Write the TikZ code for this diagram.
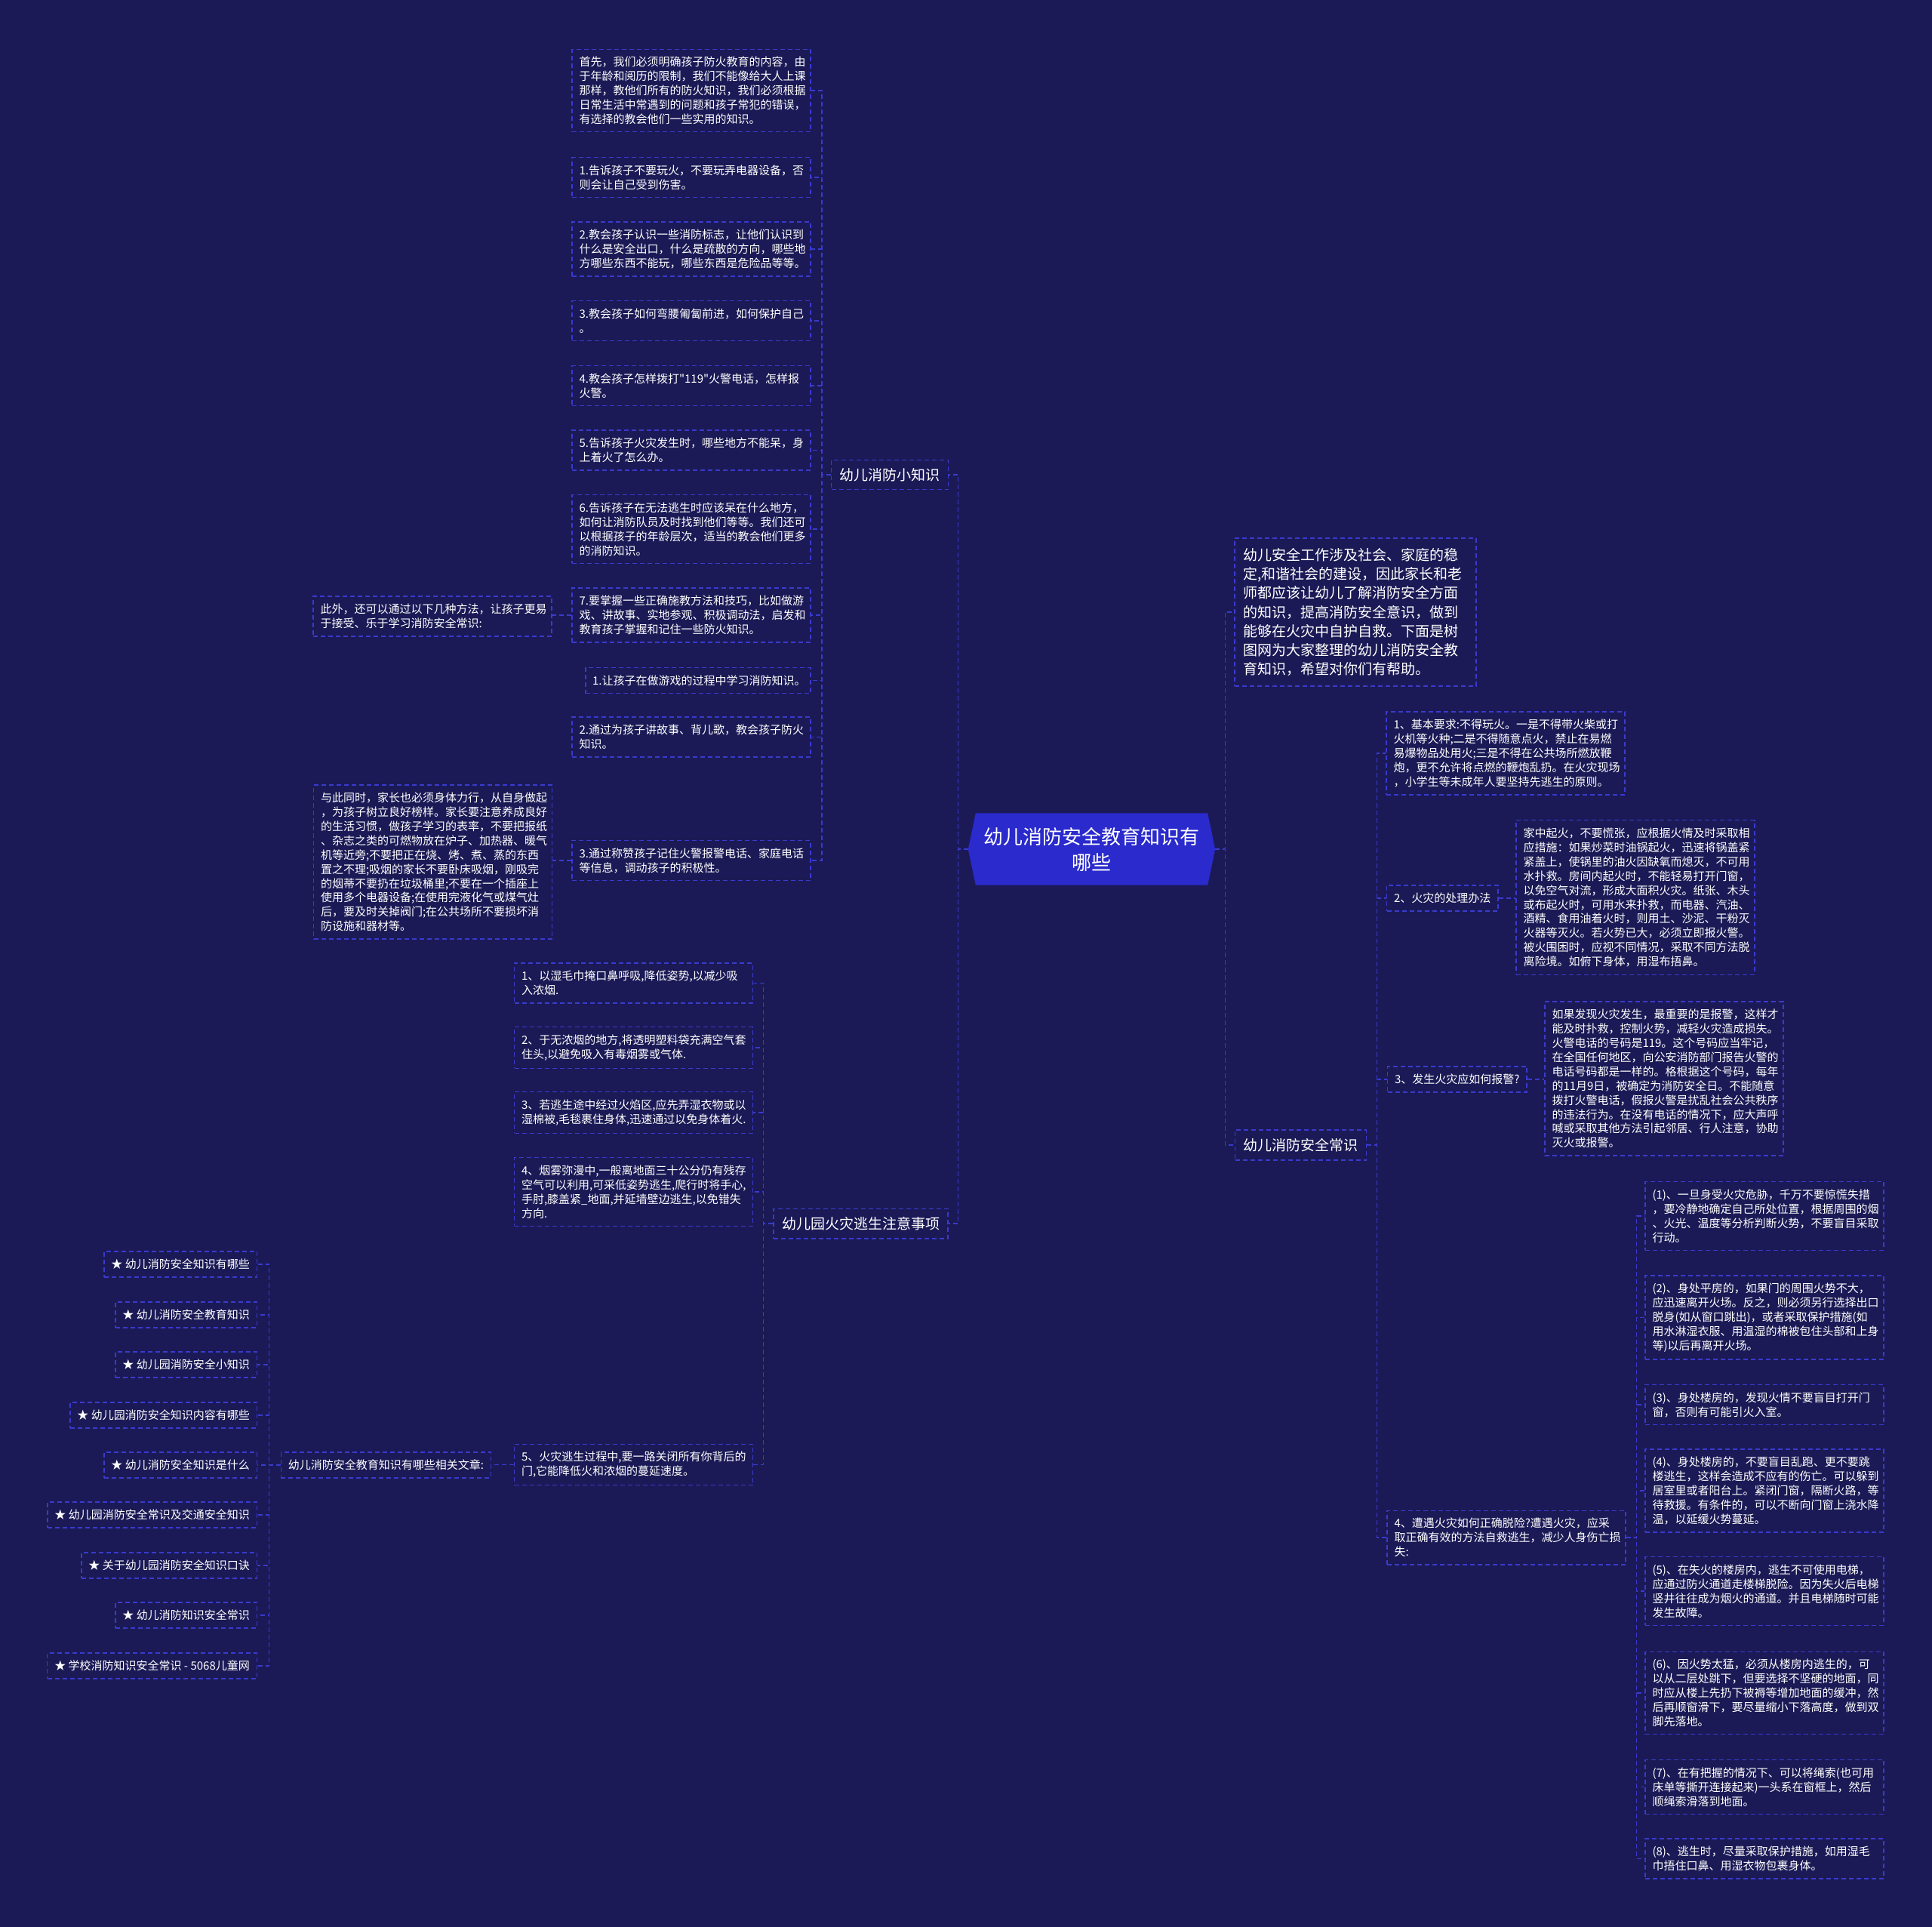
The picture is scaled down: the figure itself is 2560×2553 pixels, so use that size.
\documentclass[tikz,border=0pt]{standalone}
\usepackage{fontspec}
\newfontfamily\cjk{Noto Sans CJK SC}
\usetikzlibrary{backgrounds}
\definecolor{bgc}{RGB}{27,26,86}
\definecolor{bdr}{RGB}{58,58,205}
\definecolor{cfill}{RGB}{42,42,205}
\tikzset{
 bx/.style={draw=bdr, dash pattern=on 6pt off 4pt, line width=1.3pt, text=white, align=left, inner xsep=9.5pt, inner ysep=10pt},
 sm/.style={font=\cjk\fontsize{15pt}{18.9pt}\selectfont},
 wide/.style={bx, sm, text width=297pt},
 lbl/.style={bx, sm},
 mid/.style={bx, font=\cjk\fontsize{19pt}{25.3pt}\selectfont, inner xsep=11pt, inner ysep=11pt},
 conn/.style={draw=bdr, dash pattern=on 6pt off 4pt, line width=1.3pt},
}
\begin{document}
\begin{tikzpicture}[x=1pt,y=-1pt]
\begin{scope}[on background layer]
\fill[bgc] (0,0) rectangle (2560,2553);
\end{scope}
\useasboundingbox (0,0) rectangle (2560,2553);

% center
\node[text=white, font=\cjk\fontsize{26pt}{34pt}\selectfont, align=center, text width=300pt, minimum width=327pt, minimum height=95pt, inner sep=0pt] (c) at (1446.5,1125) {幼儿消防安全教育知识有\\哪些};
\begin{scope}[on background layer]
\fill[cfill] ([xshift=10pt]c.north west) -- ([xshift=-10pt]c.north east) -- (c.east) -- ([xshift=-10pt]c.south east) -- ([xshift=10pt]c.south west) -- (c.west) -- cycle;
\end{scope}

% left branch A
\node[mid] (A) at (1179,629) {幼儿消防小知识};
\node[wide] (t0) at (916,120) {首先，我们必须明确孩子防火教育的内容，由\\于年龄和阅历的限制，我们不能像给大人上课\\那样，教他们所有的防火知识，我们必须根据\\日常生活中常遇到的问题和孩子常犯的错误，\\有选择的教会他们一些实用的知识。};
\node[wide] (t1) at (916,235) {1.告诉孩子不要玩火，不要玩弄电器设备，否\\则会让自己受到伤害。};
\node[wide] (t2) at (916,330) {2.教会孩子认识一些消防标志，让他们认识到\\什么是安全出口，什么是疏散的方向，哪些地\\方哪些东西不能玩，哪些东西是危险品等等。};
\node[wide] (t3) at (916,425) {3.教会孩子如何弯腰匍匐前进，如何保护自己\\。};
\node[wide] (t4) at (916,511) {4.教会孩子怎样拨打"119"火警电话，怎样报\\火警。};
\node[wide] (t5) at (916,596.5) {5.告诉孩子火灾发生时，哪些地方不能呆，身\\上着火了怎么办。};
\node[wide] (t6) at (916,701) {6.告诉孩子在无法逃生时应该呆在什么地方，\\如何让消防队员及时找到他们等等。我们还可\\以根据孩子的年龄层次，适当的教会他们更多\\的消防知识。};
\node[wide] (t7) at (916,815) {7.要掌握一些正确施教方法和技巧，比如做游\\戏、讲故事、实地参观、积极调动法，启发和\\教育孩子掌握和记住一些防火知识。};
\node[lbl, text width=280pt, inner xsep=9pt] (t8) at (925,901.5) {1.让孩子在做游戏的过程中学习消防知识。};
\node[wide] (t9) at (916,976.5) {2.通过为孩子讲故事、背儿歌，教会孩子防火\\知识。};
\node[wide] (t10) at (916,1140) {3.通过称赞孩子记住火警报警电话、家庭电话\\等信息，调动孩子的积极性。};
\node[wide] (l1) at (573,816.5) {此外，还可以通过以下几种方法，让孩子更易\\于接受、乐于学习消防安全常识:};
\node[wide] (l2) at (573.5,1142) {与此同时，家长也必须身体力行，从自身做起\\，为孩子树立良好榜样。家长要注意养成良好\\的生活习惯，做孩子学习的表率，不要把报纸\\、杂志之类的可燃物放在炉子、加热器、暖气\\机等近旁;不要把正在烧、烤、煮、蒸的东西\\置之不理;吸烟的家长不要卧床吸烟，刚吸完\\的烟蒂不要扔在垃圾桶里;不要在一个插座上\\使用多个电器设备;在使用完液化气或煤气灶\\后，要及时关掉阀门;在公共场所不要损坏消\\防设施和器材等。};

% left branch B
\node[mid] (B) at (1140.5,1621) {幼儿园火灾逃生注意事项};
\node[wide] (e1) at (839.5,1302.5) {1、以湿毛巾掩口鼻呼吸,降低姿势,以减少吸\\入浓烟.};
\node[wide] (e2) at (839.5,1388) {2、于无浓烟的地方,将透明塑料袋充满空气套\\住头,以避免吸入有毒烟雾或气体.};
\node[wide] (e3) at (839.5,1474) {3、若逃生途中经过火焰区,应先弄湿衣物或以\\湿棉被,毛毯裹住身体,迅速通过以免身体着火.};
\node[wide] (e4) at (839.5,1579) {4、烟雾弥漫中,一般离地面三十公分仍有残存\\空气可以利用,可采低姿势逃生,爬行时将手心,\\手肘,膝盖紧\_地面,并延墙壁边逃生,以免错失\\方向.};
\node[wide] (e5) at (839.5,1940.5) {5、火灾逃生过程中,要一路关闭所有你背后的\\门,它能降低火和浓烟的蔓延速度。};
\node[lbl] (rel) at (511.5,1941) {幼儿消防安全教育知识有哪些相关文章:};
\node[lbl, anchor=east] (s1) at (341,1675) {★ 幼儿消防安全知识有哪些};
\node[lbl, anchor=east] (s2) at (341,1742) {★ 幼儿消防安全教育知识};
\node[lbl, anchor=east] (s3) at (341,1808) {★ 幼儿园消防安全小知识};
\node[lbl, anchor=east] (s4) at (341,1875) {★ 幼儿园消防安全知识内容有哪些};
\node[lbl, anchor=east] (s5) at (341,1941) {★ 幼儿消防安全知识是什么};
\node[lbl, anchor=east] (s6) at (341,2007) {★ 幼儿园消防安全常识及交通安全知识};
\node[lbl, anchor=east] (s7) at (341,2074) {★ 关于幼儿园消防安全知识口诀};
\node[lbl, anchor=east] (s8) at (341,2140) {★ 幼儿消防知识安全常识};
\node[lbl, anchor=east] (s9) at (341,2207) {★ 学校消防知识安全常识 - 5068儿童网};

% right side
\node[bx, font=\cjk\fontsize{19pt}{25.3pt}\selectfont, text width=298pt, inner xsep=11pt, inner ysep=13pt] (intro) at (1796,811) {幼儿安全工作涉及社会、家庭的稳\\定,和谐社会的建设，因此家长和老\\师都应该让幼儿了解消防安全方面\\的知识，提高消防安全意识，做到\\能够在火灾中自护自救。下面是树\\图网为大家整理的幼儿消防安全教\\育知识，希望对你们有帮助。};
\node[mid] (C) at (1723.5,1517) {幼儿消防安全常识};
\node[wide] (r1) at (1995,998) {1、基本要求:不得玩火。一是不得带火柴或打\\火机等火种;二是不得随意点火，禁止在易燃\\易爆物品处用火;三是不得在公共场所燃放鞭\\炮，更不允许将点燃的鞭炮乱扔。在火灾现场\\，小学生等未成年人要坚持先逃生的原则。};
\node[lbl, anchor=west] (r2) at (1837,1190) {2、火灾的处理办法};
\node[wide] (r2c) at (2167,1189) {家中起火，不要慌张，应根据火情及时采取相\\应措施：如果炒菜时油锅起火，迅速将锅盖紧\\紧盖上，使锅里的油火因缺氧而熄灭，不可用\\水扑救。房间内起火时，不能轻易打开门窗，\\以免空气对流，形成大面积火灾。纸张、木头\\或布起火时，可用水来扑救，而电器、汽油、\\酒精、食用油着火时，则用土、沙泥、干粉灭\\火器等灭火。若火势已大，必须立即报火警。\\被火围困时，应视不同情况，采取不同方法脱\\离险境。如俯下身体，用湿布捂鼻。};
\node[lbl, anchor=west] (r3) at (1838,1430) {3、发生火灾应如何报警?};
\node[wide] (r3c) at (2205,1429) {如果发现火灾发生，最重要的是报警，这样才\\能及时扑救，控制火势，减轻火灾造成损失。\\火警电话的号码是119。这个号码应当牢记，\\在全国任何地区，向公安消防部门报告火警的\\电话号码都是一样的。格根据这个号码，每年\\的11月9日，被确定为消防安全日。不能随意\\拨打火警电话，假报火警是扰乱社会公共秩序\\的违法行为。在没有电话的情况下，应大声呼\\喊或采取其他方法引起邻居、行人注意，协助\\灭火或报警。};
\node[wide] (r4) at (1996,2037) {4、遭遇火灾如何正确脱险?遭遇火灾，应采\\取正确有效的方法自救逃生，减少人身伤亡损\\失:};
\node[wide] (p1) at (2338,1611) {(1)、一旦身受火灾危胁，千万不要惊慌失措\\，要冷静地确定自己所处位置，根据周围的烟\\、火光、温度等分析判断火势，不要盲目采取\\行动。};
\node[wide] (p2) at (2338,1745.5) {(2)、身处平房的，如果门的周围火势不大，\\应迅速离开火场。反之，则必须另行选择出口\\脱身(如从窗口跳出)，或者采取保护措施(如\\用水淋湿衣服、用温湿的棉被包住头部和上身\\等)以后再离开火场。};
\node[wide] (p3) at (2338,1861) {(3)、身处楼房的，发现火情不要盲目打开门\\窗，否则有可能引火入室。};
\node[wide] (p4) at (2338,1975) {(4)、身处楼房的，不要盲目乱跑、更不要跳\\楼逃生，这样会造成不应有的伤亡。可以躲到\\居室里或者阳台上。紧闭门窗，隔断火路，等\\待救援。有条件的，可以不断向门窗上浇水降\\温，以延缓火势蔓延。};
\node[wide] (p5) at (2338,2108) {(5)、在失火的楼房内，逃生不可使用电梯，\\应通过防火通道走楼梯脱险。因为失火后电梯\\竖井往往成为烟火的通道。并且电梯随时可能\\发生故障。};
\node[wide] (p6) at (2338,2243) {(6)、因火势太猛，必须从楼房内逃生的，可\\以从二层处跳下，但要选择不坚硬的地面，同\\时应从楼上先扔下被褥等增加地面的缓冲，然\\后再顺窗滑下，要尽量缩小下落高度，做到双\\脚先落地。};
\node[wide] (p7) at (2338,2367.5) {(7)、在有把握的情况下、可以将绳索(也可用\\床单等撕开连接起来)一头系在窗框上，然后\\顺绳索滑落到地面。};
\node[wide] (p8) at (2338,2462.5) {(8)、逃生时，尽量采取保护措施，如用湿毛\\巾捂住口鼻、用湿衣物包裹身体。};

% connectors
\foreach \n in {A,B} \draw[conn] (c.west) -- ++(-13,0) |- (\n.east);
\foreach \n in {t0,t1,t2,t3,t4,t5,t6,t7,t8,t9,t10} \draw[conn] (A.west) -- ++(-12,0) |- (\n.east);
\draw[conn] (t7.west) -- (t7.west -| l1.east);
\draw[conn] (t10.west) -- (t10.west -| l2.east);
\foreach \n in {e1,e2,e3,e4,e5} \draw[conn] (B.west) -- ++(-13,0) |- (\n.east);
\draw[conn] (e5.west) -- (e5.west -| rel.east);
\foreach \n in {s1,s2,s3,s4,s5,s6,s7,s8,s9} \draw[conn] (rel.west) -- ++(-15,0) |- (\n.east);
\foreach \n in {intro,C} \draw[conn] (c.east) -- ++(13,0) |- (\n.west);
\foreach \n in {r1,r2,r3,r4} \draw[conn] (C.east) -- ++(13,0) |- (\n.west);
\draw[conn] (r2.east) -- (r2.east -| r2c.west);
\draw[conn] (r3.east) -- (r3.east -| r3c.west);
\foreach \n in {p1,p2,p3,p4,p5,p6,p7,p8} \draw[conn] (r4.east) -- ++(14,0) |- (\n.west);
\end{tikzpicture}
\end{document}
